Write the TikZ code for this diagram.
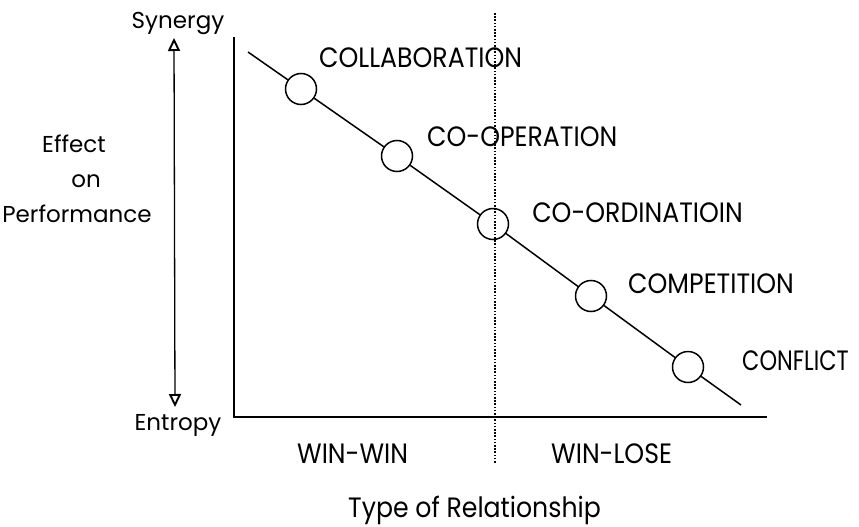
\documentclass[tikz,border=0pt]{standalone}
\usepackage{fontspec}
\setmainfont{Poppins}
\newfontfamily\lblfont{Poppins}[FakeStretch=0.9]
\newfontfamily\narrowlblfont{Poppins}[FakeStretch=0.8]
\usetikzlibrary{arrows.meta}
\begin{document}
\begin{tikzpicture}[x=1pt, y=-1pt,
  every node/.style={font=\fontsize{23}{30}\selectfont, inner sep=0pt},
  lbl/.style={font=\lblfont\fontsize{28}{32}\selectfont},
  stage/.style={draw, circle, minimum size=31pt, line width=1.5pt},
  axis/.style={line width=2pt},
  openhead/.tip={Triangle[open, length=13pt, width=12pt, line width=1.9pt]}]
\useasboundingbox (0,0) rectangle (859,527);
% axes
\coordinate (origin) at (234,417);
\coordinate (ytop) at (234,37);
\coordinate (xend) at (767,417);
\draw[axis] (ytop) -- (origin) -- (xend);
% divider
\coordinate (dtop) at (495,13);
\coordinate (dbot) at (495,463);
\draw[line width=1.4pt, dash pattern=on 1.6pt off 1.6pt] (dtop) -- (dbot);
% stages on the line
\node[stage] (c1) at (301,89) {};
\node[stage] (c2) at (397,156) {};
\node[stage] (c3) at (493,224) {};
\node[stage] (c4) at (591,296) {};
\node[stage] (c5) at (688,367) {};
\coordinate (lstart) at (248,52);
\coordinate (lend) at (741,405);
\draw[line width=1.5pt] (lstart) -- (c1) -- (c2) -- (c3) -- (c4) -- (c5) -- (lend);
\node[lbl, anchor=base west] (collab) at (319,67) {COLLABORATION};
\node[lbl, anchor=base west] (coop) at (427,146) {CO-OPERATION};
\node[lbl, anchor=base east] (coord) at (743,222) {CO-ORDINATIOIN};
\node[lbl, anchor=base west] (comp) at (628,293) {COMPETITION};
\node[font=\narrowlblfont\fontsize{28}{32}\selectfont, anchor=base west] (confl) at (742,370) {CONFLICT};
% effect scale
\node[anchor=base] (syn) at (178,29) {Synergy};
\node[anchor=base] (ent) at (178,430) {Entropy};
\coordinate (atop) at (174,38);
\coordinate (abot) at (175,407);
\draw[line width=1.3pt, openhead-openhead] (atop) -- (abot);
\node[anchor=base] (eff) at (74,152) {Effect};
\node[anchor=base] (on) at (86,187) {on};
\node[anchor=base] (perf) at (77,222) {Performance};
% relationship types
\node[lbl, anchor=base west] (ww) at (297,463) {WIN-WIN};
\node[lbl, anchor=base west] (wl) at (551,463) {WIN-LOSE};
\node[lbl, anchor=base west] (type) at (348,517) {Type\ of\ Relationship};
\end{tikzpicture}
\end{document}
